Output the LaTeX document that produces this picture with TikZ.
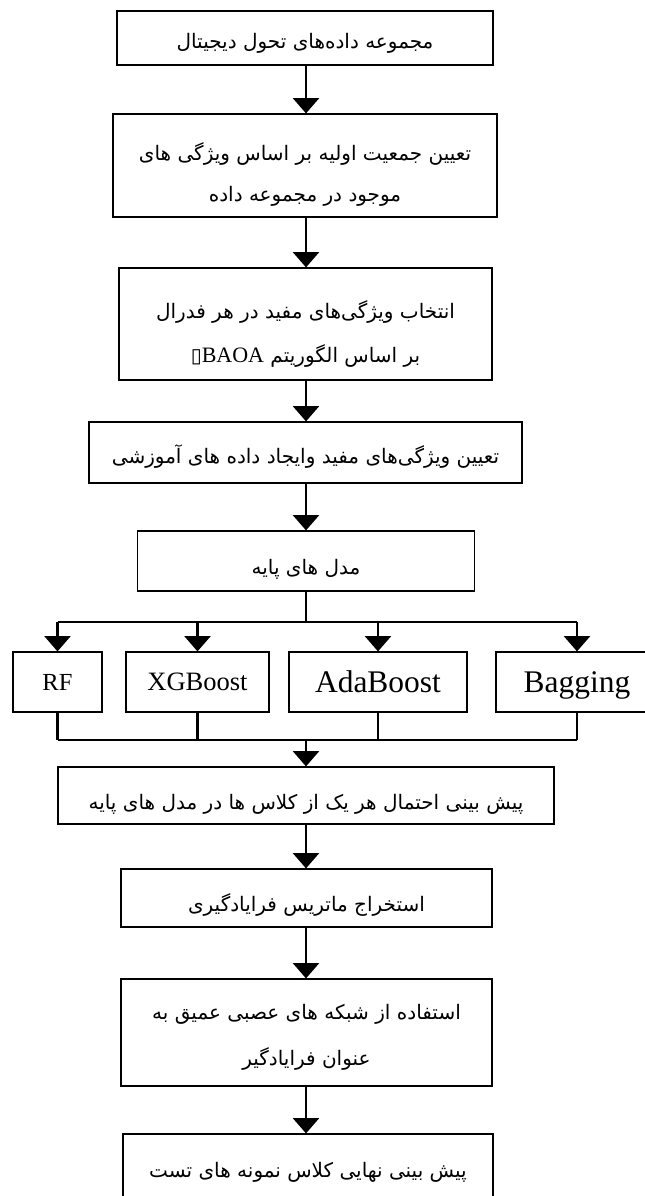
\documentclass[tikz,border=0pt]{standalone}
\usepackage{fontspec}
\usetikzlibrary{arrows.meta}
\setmainfont{Liberation Serif}
\newfontfamily\pf[Script=Arabic]{DejaVu Sans}
\TeXXeTstate=1
\newlength{\pxu}\setlength{\pxu}{0.75pt}
\tikzset{
  box/.style={draw, line width=0.9pt, inner sep=0pt},
  ptxt/.style={inner sep=0pt, align=center, font=\pf\fontsize{15}{31}\selectfont},
  lat/.style={draw, line width=0.9pt, inner sep=0pt, align=center, text depth=0pt},
  conn/.style={line width=2pt},
  arr/.style={line width=2pt, -{Triangle[width=19.5pt,length=11.5pt]}}
}
\begin{document}
\begin{tikzpicture}[x=0.75pt,y=-0.75pt]
\useasboundingbox (0,0) rectangle (645,1196);
% boxes
\node[box, minimum width=376\pxu, minimum height=54\pxu] (b1) at (305,38) {};
\node[box, minimum width=384\pxu, minimum height=103\pxu] (b2) at (305,165.5) {};
\node[box, minimum width=373\pxu, minimum height=112\pxu] (b3) at (305.5,324) {};
\node[box, minimum width=433\pxu, minimum height=61\pxu] (b4) at (305.5,452.5) {};
\node[box, minimum width=337\pxu, minimum height=60\pxu] (b5) at (306,561) {};
\node[box, minimum width=496\pxu, minimum height=57\pxu] (b6) at (306,795.5) {};
\node[box, minimum width=371\pxu, minimum height=58\pxu] (b7) at (306.5,898) {};
\node[box, minimum width=371\pxu, minimum height=107\pxu] (b8) at (306.5,1032.5) {};
\node[box, minimum width=370\pxu, minimum height=68\pxu] (b9) at (308,1168) {};
% texts
\node[ptxt] (t1) at (305,43.5) {\beginR مجموعه داده‌های تحول دیجیتال\endR};
\node[ptxt, font=\pf\fontsize{15}{31}\selectfont] (t2) at (305,174.5) {\beginR تعیین جمعیت اولیه بر اساس ویژگی های\endR\\\beginR موجود در مجموعه داده\endR};
\node[ptxt, font=\pf\fontsize{15}{33}\selectfont] (t3) at (305.5,334) {\beginR انتخاب ویژگی‌های مفید در هر فدرال\endR\\\beginR بر اساس الگوریتم \beginL{\rmfamily\fontsize{16.5}{20}\selectfont BAOA}\endL▯\endR};
\node[ptxt] (t4) at (305.5,457) {\beginR تعیین ویژگی‌های مفید وایجاد داده های آموزشی\endR};
\node[ptxt] (t5) at (306,569) {\beginR مدل های پایه\endR};
\node[ptxt] (t6) at (306,804) {\beginR پیش بینی احتمال هر یک از کلاس ها در مدل های پایه\endR};
\node[ptxt] (t7) at (306.5,905) {\beginR استخراج ماتریس فرایادگیری\endR};
\node[ptxt, font=\pf\fontsize{15}{34.5}\selectfont] (t8) at (306.5,1037) {\beginR استفاده از شبکه های عصبی عمیق به\endR\\\beginR عنوان فرایادگیر\endR};
\node[ptxt] (t9) at (308,1172) {\beginR پیش بینی نهایی کلاس نمونه های تست\endR};
% classifiers
\node[lat, minimum width=89\pxu, minimum height=60\pxu, text height=12.2pt, font=\fontsize{18.4}{22}\selectfont] (rf) at (57.5,682) {RF};
\node[lat, minimum width=143\pxu, minimum height=60\pxu, text height=13.2pt, font=\fontsize{19.9}{24}\selectfont] (xgb) at (197.5,682) {XGBoost};
\node[lat, minimum width=178\pxu, minimum height=60\pxu, text height=15.6pt, font=\fontsize{23.6}{28}\selectfont] (ada) at (378,682) {AdaBoost};
\node[lat, minimum width=162\pxu, minimum height=60\pxu, text height=15.6pt, font=\fontsize{23.6}{28}\selectfont] (bag) at (577,682) {Bagging};
\coordinate (split) at (306,622);
\coordinate (merge) at (306,740);
% connectors
\draw[arr] (b1.south -| 306,0) -- (b2.north -| 306,0);
\draw[arr] (b2.south -| 306,0) -- (b3.north -| 306,0);
\draw[arr] (b3.south -| 306,0) -- (b4.north -| 306,0);
\draw[arr] (b4.south -| 306,0) -- (b5.north -| 306,0);
\draw[conn] (b5.south -| split) -- (split);
\draw[conn] (rf.north |- split) -- (bag.north |- split);
\foreach \n in {rf,xgb,ada,bag} {
  \draw[arr] (\n.north |- split) -- (\n.north);
  \draw[conn] (\n.south) -- (\n.south |- merge);
}
\draw[conn] (rf.south |- merge) -- (bag.south |- merge);
\draw[arr] (merge) -- (b6.north -| merge);
\draw[arr] (b6.south -| 306,0) -- (b7.north -| 306,0);
\draw[arr] (b7.south -| 306,0) -- (b8.north -| 306,0);
\draw[arr] (b8.south -| 306,0) -- (b9.north -| 306,0);
\end{tikzpicture}
\end{document}
